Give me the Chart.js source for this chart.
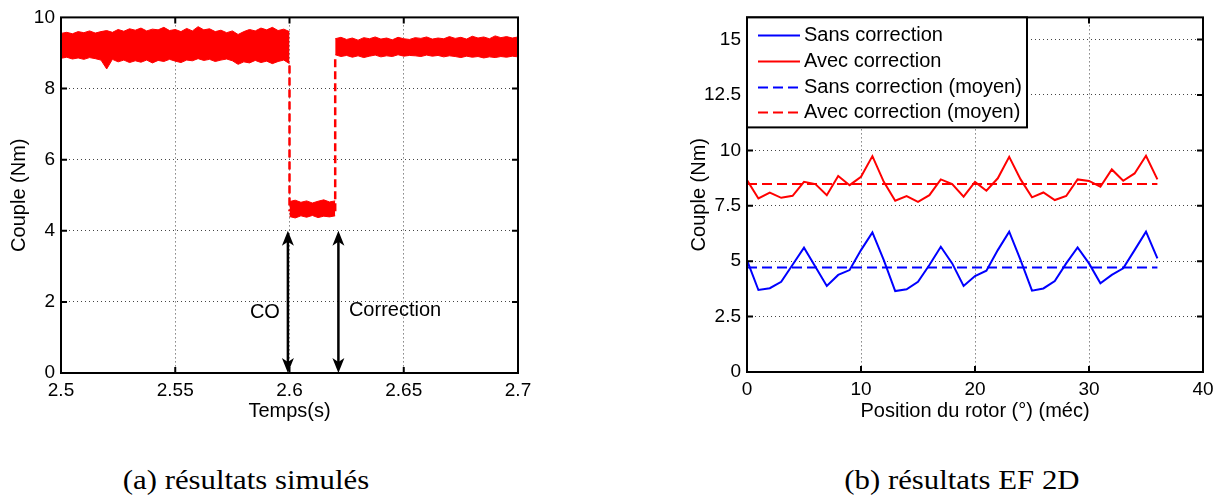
<!DOCTYPE html>
<html>
<head>
<meta charset="utf-8">
<script src="https://cdn.jsdelivr.net/npm/chart.js@4/dist/chart.umd.min.js"></script>
<style>
  body { margin: 0; background: #fff; width: 1223px; height: 499px; position: relative; overflow: hidden; }
  canvas { position: absolute; top: 0; }
  #chartA { left: 0; }
  #chartB { left: 623px; }
  .caption { position: absolute; top: 465px; width: 400px; text-align: center; line-height: 30px;
    font-family: "Liberation Serif", "Times New Roman", serif; font-size: 28px; color: #000; }
  .caption span { display: inline-block; transform: scaleX(1.1); transform-origin: center; white-space: nowrap; }
</style>
</head>
<body>
<canvas id="chartA" width="600" height="430"></canvas>
<canvas id="chartB" width="600" height="430"></canvas>
<div class="caption" style="left:46px"><span>(a) résultats simulés</span></div>
<div class="caption" style="left:762px"><span>(b) résultats EF 2D</span></div>
<script>
// (a) couple simulé : enveloppe haute / basse du signal bruité
const tPre = [2.5, 2.5025, 2.505, 2.5075, 2.51, 2.5125, 2.515, 2.5175, 2.52, 2.5225,
  2.525, 2.5275, 2.53, 2.5325, 2.535, 2.5375, 2.54, 2.5425, 2.545, 2.5475,
  2.55, 2.5525, 2.555, 2.5575, 2.56, 2.5625, 2.565, 2.5675, 2.57, 2.5725,
  2.575, 2.5775, 2.58, 2.5825, 2.585, 2.5875, 2.59, 2.5925, 2.595, 2.5975, 2.6];
const upPre = [9.55, 9.58, 9.54, 9.60, 9.57, 9.62, 9.56, 9.60, 9.63, 9.58,
  9.66, 9.61, 9.68, 9.64, 9.70, 9.62, 9.67, 9.65, 9.72, 9.63,
  9.66, 9.60, 9.69, 9.62, 9.74, 9.65, 9.68, 9.60, 9.64, 9.57,
  9.62, 9.52, 9.60, 9.66, 9.62, 9.70, 9.65, 9.72, 9.63, 9.67, 9.60];
const loPre = [8.85, 8.88, 8.83, 8.86, 8.82, 8.87, 8.84, 8.80, 8.55, 8.82,
  8.75, 8.80, 8.73, 8.78, 8.74, 8.80, 8.72, 8.79, 8.76, 8.82,
  8.77, 8.73, 8.80, 8.78, 8.84, 8.79, 8.82, 8.76, 8.80, 8.83,
  8.78, 8.68, 8.75, 8.72, 8.79, 8.73, 8.77, 8.70, 8.76, 8.80, 8.70];

const tLow = [2.6, 2.6025, 2.605, 2.6075, 2.61, 2.6125, 2.615, 2.6175, 2.62];
const upLow = [4.82, 4.86, 4.80, 4.84, 4.78, 4.83, 4.87, 4.81, 4.84];
const loLow = [4.40, 4.36, 4.42, 4.38, 4.43, 4.37, 4.41, 4.39, 4.42];

const tPost = [2.62, 2.6225, 2.625, 2.6275, 2.63, 2.6325, 2.635, 2.6375, 2.64, 2.6425,
  2.645, 2.6475, 2.65, 2.6525, 2.655, 2.6575, 2.66, 2.6625, 2.665, 2.6675,
  2.67, 2.6725, 2.675, 2.6775, 2.68, 2.6825, 2.685, 2.6875, 2.69, 2.6925,
  2.695, 2.6975, 2.7];
const upPost = [9.40, 9.44, 9.38, 9.42, 9.36, 9.43, 9.40, 9.45, 9.39, 9.42,
  9.37, 9.44, 9.40, 9.38, 9.43, 9.41, 9.45, 9.39, 9.42, 9.40,
  9.46, 9.41, 9.44, 9.39, 9.47, 9.42, 9.45, 9.40, 9.48, 9.43,
  9.46, 9.42, 9.45];
const loPost = [8.95, 8.90, 8.93, 8.88, 8.92, 8.87, 8.91, 8.94, 8.89, 8.92,
  8.90, 8.95, 8.91, 8.93, 8.92, 8.90, 8.94, 8.91, 8.93, 8.89,
  8.92, 8.90, 8.87, 8.91, 8.88, 8.90, 8.86, 8.89, 8.87, 8.90,
  8.88, 8.91, 8.89];

// transitions en pointillés
const dropT = [2.6, 2.6];
const dropY = [8.65, 4.55];
const riseT = [2.62, 2.62];
const riseY = [4.55, 8.9];

// flèches CO / Correction
const arrowT = [2.5993, 2.6214];
const arrowY = [0, 4];

const xTicksA = [2.5, 2.55, 2.6, 2.65, 2.7];
const yTicksA = [0, 2, 4, 6, 8, 10];

// (b) résultats EF 2D
const rotorPos = [0, 1, 2, 3, 4, 5, 6, 7, 8, 9, 10, 11, 12, 13, 14, 15, 16, 17, 18,
  19, 20, 21, 22, 23, 24, 25, 26, 27, 28, 29, 30, 31, 32, 33, 34, 35, 36];
const sansCorr = [5.05, 3.70, 3.78, 4.07, 4.84, 5.61, 4.75, 3.88, 4.38, 4.60,
  5.50, 6.30, 5.05, 3.65, 3.73, 4.07, 4.83, 5.65, 4.90, 3.88,
  4.33, 4.57, 5.50, 6.33, 5.05, 3.67, 3.77, 4.10, 4.90, 5.62,
  4.90, 4.00, 4.38, 4.68, 5.50, 6.33, 5.13];
const avecCorr = [8.66, 7.83, 8.09, 7.86, 7.95, 8.58, 8.48, 7.98, 8.84, 8.43,
  8.81, 9.74, 8.58, 7.73, 7.94, 7.68, 7.98, 8.69, 8.48, 7.91,
  8.58, 8.18, 8.74, 9.71, 8.69, 7.88, 8.10, 7.76, 7.94, 8.69,
  8.62, 8.36, 9.14, 8.63, 8.96, 9.76, 8.69];
const meanPos = [0, 36];
const sansMean = [4.72, 4.72];
const avecMean = [8.48, 8.48];

const xTicksB = [0, 10, 20, 30, 40];
const yTicksB = [0, 2.5, 5, 7.5, 10, 12.5, 15];

const RED = '#ff0000';
const BLUE = '#0000ff';
const SANS = '"Liberation Sans", Arial, sans-serif';
const tickFont = { family: SANS, size: 19 };
const titleFont = { family: SANS, size: 20 };

const pts = (xs, ys) => xs.map((x, i) => ({ x: x, y: ys[i] }));

function arrowHead(ctx, x, yTip, dir) {
  const L = 15, W = 6, notch = 4;
  ctx.beginPath();
  ctx.moveTo(x, yTip);
  ctx.lineTo(x - W, yTip - dir * L);
  ctx.lineTo(x, yTip - dir * (L - notch));
  ctx.lineTo(x + W, yTip - dir * L);
  ctx.closePath();
  ctx.fill();
}

const frame = {
  id: 'frame',
  afterDatasetsDraw(chart, args, opts) {
    const { ctx, chartArea: a, scales } = chart;
    const sx = scales.x, sy = scales.y;
    ctx.save();

    // flèches doubles
    if (opts.arrows) {
      ctx.strokeStyle = '#000';
      ctx.fillStyle = '#000';
      ctx.lineWidth = 2.5;
      arrowT.forEach(t => {
        const px = sx.getPixelForValue(t);
        const y0 = sy.getPixelForValue(arrowY[0]);
        const y1 = sy.getPixelForValue(arrowY[1]);
        ctx.beginPath();
        ctx.moveTo(px, y0 - 6);
        ctx.lineTo(px, y1 + 6);
        ctx.stroke();
        arrowHead(ctx, px, y0, 1);
        arrowHead(ctx, px, y1, -1);
      });
    }
    if (opts.notes) {
      ctx.fillStyle = '#000';
      ctx.font = '20px ' + SANS;
      ctx.textBaseline = 'middle';
      opts.notes.forEach(n => {
        ctx.textAlign = n.align;
        ctx.fillText(n.text, sx.getPixelForValue(n.x), sy.getPixelForValue(n.y));
      });
    }

    // cadre + graduations intérieures
    ctx.strokeStyle = '#000';
    ctx.lineWidth = 2;
    ctx.strokeRect(a.left, a.top, a.right - a.left, a.bottom - a.top);
    ctx.beginPath();
    sx.ticks.forEach(t => {
      const px = sx.getPixelForValue(t.value);
      if (px <= a.left + 1 || px >= a.right - 1) return;
      ctx.moveTo(px, a.bottom); ctx.lineTo(px, a.bottom - 6);
      ctx.moveTo(px, a.top); ctx.lineTo(px, a.top + 6);
    });
    sy.ticks.forEach(t => {
      const py = sy.getPixelForValue(t.value);
      if (py <= a.top + 1 || py >= a.bottom - 1) return;
      ctx.moveTo(a.left, py); ctx.lineTo(a.left + 6, py);
      ctx.moveTo(a.right, py); ctx.lineTo(a.right - 6, py);
    });
    ctx.stroke();

    // légende
    if (opts.legend) {
      const lg = opts.legend;
      const x0 = a.left, y0 = a.top;
      ctx.fillStyle = '#fff';
      ctx.fillRect(x0, y0, lg.w, lg.h);
      ctx.strokeStyle = '#000';
      ctx.lineWidth = 2;
      ctx.strokeRect(x0, y0, lg.w, lg.h);
      ctx.font = '20px ' + SANS;
      ctx.textAlign = 'left';
      ctx.textBaseline = 'middle';
      chart.data.datasets.forEach((ds, i) => {
        const ry = y0 + lg.rows[i];
        ctx.strokeStyle = ds.borderColor;
        ctx.lineWidth = 2;
        ctx.setLineDash(ds.borderDash || []);
        ctx.beginPath();
        ctx.moveTo(x0 + 11, ry);
        ctx.lineTo(x0 + 53, ry);
        ctx.stroke();
        ctx.setLineDash([]);
        ctx.fillStyle = '#000';
        ctx.fillText(ds.label, x0 + 57, ry);
      });
    }
    ctx.restore();
  }
};

function axis(min, max, ticks, size, title, titlePad, fitKey) {
  return {
    type: 'linear',
    min: min,
    max: max,
    afterBuildTicks: s => { s.ticks = ticks.map(v => ({ value: v })); },
    afterFit: s => { s[fitKey] = size; },
    grid: { color: '#444', lineWidth: 1, drawTicks: false },
    border: { display: false, dash: [1, 3] },
    ticks: { color: '#000', font: tickFont, padding: 6, autoSkip: false, maxRotation: 0,
      callback: v => String(v) },
    title: { display: true, text: title, color: '#000', font: titleFont, padding: titlePad }
  };
}

const bandA = (ts, up, lo) => [
  { data: pts(ts, up), borderColor: RED, backgroundColor: RED, borderWidth: 1, fill: '+1' },
  { data: pts(ts, lo), borderColor: RED, borderWidth: 1, fill: false }
];

new Chart(document.getElementById('chartA'), {
  type: 'line',
  data: {
    datasets: [
      ...bandA(tPre, upPre, loPre),
      ...bandA(tLow, upLow, loLow),
      ...bandA(tPost, upPost, loPost),
      { data: pts(dropT, dropY), borderColor: RED, borderWidth: 2.5, borderDash: [8, 4], fill: false },
      { data: pts(riseT, riseY), borderColor: RED, borderWidth: 2.5, borderDash: [8, 4], fill: false }
    ]
  },
  options: {
    responsive: false,
    animation: false,
    layout: { padding: { top: 16, right: 82, left: 0, bottom: 0 } },
    elements: { point: { radius: 0 }, line: { tension: 0 } },
    plugins: {
      legend: { display: false },
      tooltip: { enabled: false },
      frame: {
        arrows: true,
        notes: [
          { text: 'CO', x: 2.5958, y: 1.71, align: 'right' },
          { text: 'Correction', x: 2.626, y: 1.76, align: 'left' }
        ]
      }
    },
    scales: {
      x: axis(2.5, 2.7, xTicksA, 57, 'Temps(s)', { top: 0, bottom: 7 }, 'height'),
      y: axis(0, 10, yTicksA, 61, 'Couple (Nm)', { top: 7, bottom: 0 }, 'width')
    }
  },
  plugins: [frame]
});

new Chart(document.getElementById('chartB'), {
  type: 'line',
  data: {
    datasets: [
      { label: 'Sans correction', data: pts(rotorPos, sansCorr), borderColor: BLUE, borderWidth: 2 },
      { label: 'Avec correction', data: pts(rotorPos, avecCorr), borderColor: RED, borderWidth: 2 },
      { label: 'Sans correction (moyen)', data: pts(meanPos, sansMean), borderColor: BLUE, borderWidth: 2, borderDash: [10, 5] },
      { label: 'Avec correction (moyen)', data: pts(meanPos, avecMean), borderColor: RED, borderWidth: 2, borderDash: [10, 5] }
    ]
  },
  options: {
    responsive: false,
    animation: false,
    layout: { padding: { top: 16, right: 20, left: 0, bottom: 0 } },
    elements: { point: { radius: 0 }, line: { tension: 0, fill: false } },
    plugins: {
      legend: { display: false },
      tooltip: { enabled: false },
      frame: { legend: { w: 280, h: 110, rows: [18, 44, 70, 95] } }
    },
    scales: {
      x: axis(0, 40, xTicksB, 58, 'Position du rotor (°) (méc)', { top: 0, bottom: 7 }, 'height'),
      y: axis(0, 16, yTicksB, 124, 'Couple (Nm)', { top: 64, bottom: 0 }, 'width')
    }
  },
  plugins: [frame]
});
</script>
</body>
</html>
